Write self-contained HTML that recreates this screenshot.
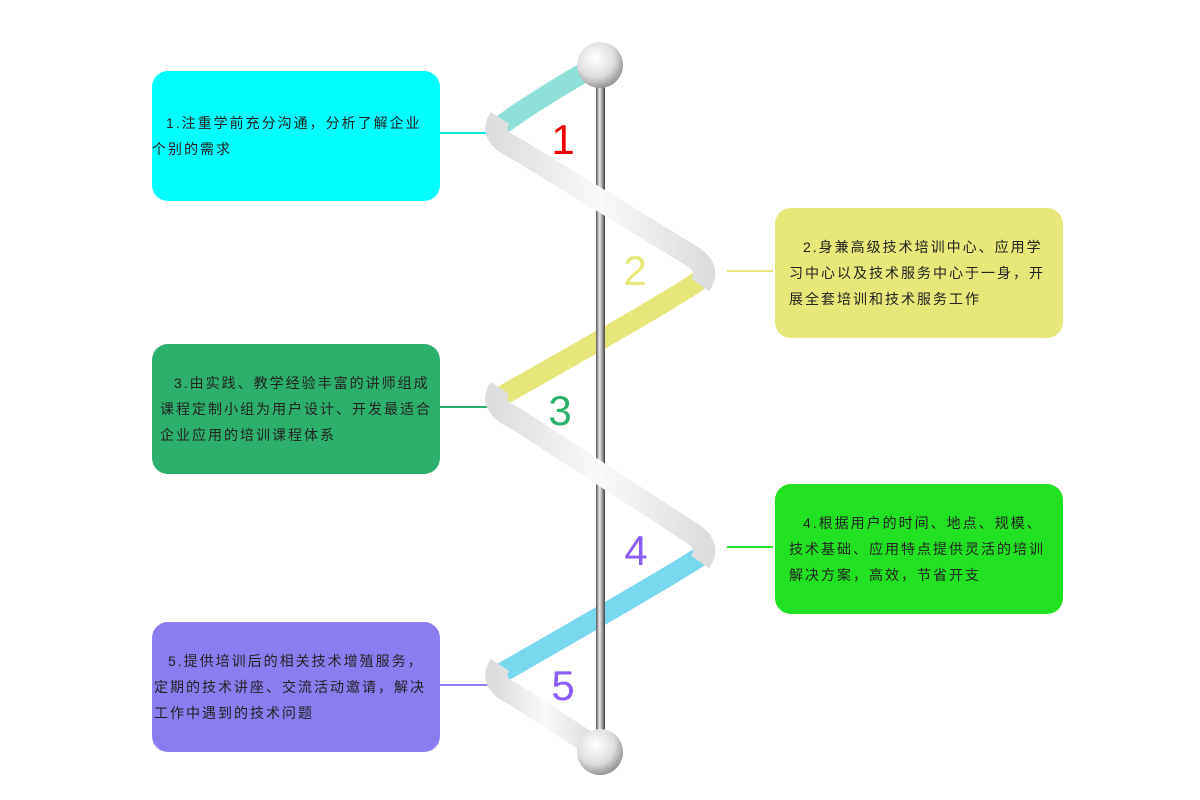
<!DOCTYPE html>
<html><head><meta charset="utf-8"><style>
body{margin:0;width:1200px;height:800px;background:#fff;position:relative;overflow:hidden;font-family:"Liberation Sans","Noto Sans CJK SC",sans-serif}
.b{position:absolute;width:288px;height:130px;border-radius:16px;display:flex;align-items:center;box-sizing:border-box;font-size:14px;letter-spacing:2px;line-height:26px;color:#222}
.b div{text-indent:14px}
svg{position:absolute;left:0;top:0}
</style></head><body>
<div class="b" style="left:152px;top:71px;background:#00ffff;padding:0 10px 0 0"><div>1.注重学前充分沟通，分析了解企业个别的需求</div></div>
<div class="b" style="left:775px;top:208px;background:#e8e87a;padding:0 12px 0 14px"><div>2.身兼高级技术培训中心、应用学习中心以及技术服务中心于一身，开展全套培训和技术服务工作</div></div>
<div class="b" style="left:152px;top:344px;background:#2db06b;padding:0 8px 0 8px"><div>3.由实践、教学经验丰富的讲师组成课程定制小组为用户设计、开发最适合企业应用的培训课程体系</div></div>
<div class="b" style="left:775px;top:484px;background:#22e022;padding:0 12px 0 14px"><div>4.根据用户的时间、地点、规模、技术基础、应用特点提供灵活的培训解决方案，高效，节省开支</div></div>
<div class="b" style="left:152px;top:622px;background:#8b7cf0;padding:0 8px 0 2px"><div>5.提供培训后的相关技术增殖服务，定期的技术讲座、交流活动邀请，解决工作中遇到的技术问题</div></div>
<svg width="1200" height="800">
<defs>
<linearGradient id="pole" x1="0" x2="1"><stop offset="0" stop-color="#555"/><stop offset=".4" stop-color="#eee"/><stop offset="1" stop-color="#444"/></linearGradient>
<radialGradient id="ball" cx=".4" cy=".35" r=".7"><stop offset="0" stop-color="#fff"/><stop offset=".6" stop-color="#ddd"/><stop offset="1" stop-color="#888"/></radialGradient>
<linearGradient id="wh" x1="0" x2="1"><stop offset="0" stop-color="#ddd"/><stop offset=".5" stop-color="#fafafa"/><stop offset="1" stop-color="#ddd"/></linearGradient>
</defs>
<g stroke-width="2">
<line x1="440" y1="133" x2="490" y2="133" stroke="#00e5e5"/>
<line x1="727" y1="271" x2="773" y2="271" stroke="#e8e87a"/>
<line x1="440" y1="407" x2="490" y2="407" stroke="#2db06b"/>
<line x1="727" y1="547" x2="773" y2="547" stroke="#22e022"/>
<line x1="440" y1="685" x2="490" y2="685" stroke="#8b7cf0"/>
</g>
<g fill="none" stroke-width="20" stroke-linecap="butt">
<path d="M498 128 Q520 110 588 70" stroke="#8fe0d8"/>
<path d="M702 278 Q690 290 498 398" stroke="#e6e67a"/>
<path d="M702 555 Q690 565 498 675" stroke="#7ad8ee"/>
</g>
<rect x="596" y="65" width="9" height="690" fill="url(#pole)"/>
<g fill="none" stroke="url(#wh)" stroke-width="22">
<path d="M500 118 Q488 136 515 148 L690 255 Q712 268 700 285"/>
<path d="M500 388 Q488 406 515 418 L690 532 Q712 545 700 562"/>
<path d="M500 665 Q488 683 515 695 L592 745"/>
</g>
<circle cx="600" cy="65" r="23" fill="url(#ball)"/>
<circle cx="600" cy="752" r="23" fill="url(#ball)"/>
<g font-family="Liberation Sans" font-size="42" text-anchor="middle">
<text x="563" y="154" fill="#f00000">1</text>
<text x="635" y="285" fill="#e8e87a">2</text>
<text x="560" y="425" fill="#2db06b">3</text>
<text x="636" y="565" fill="#8b5cf6">4</text>
<text x="563" y="700" fill="#8b5cf6">5</text>
</g>
</svg>
</body></html>
